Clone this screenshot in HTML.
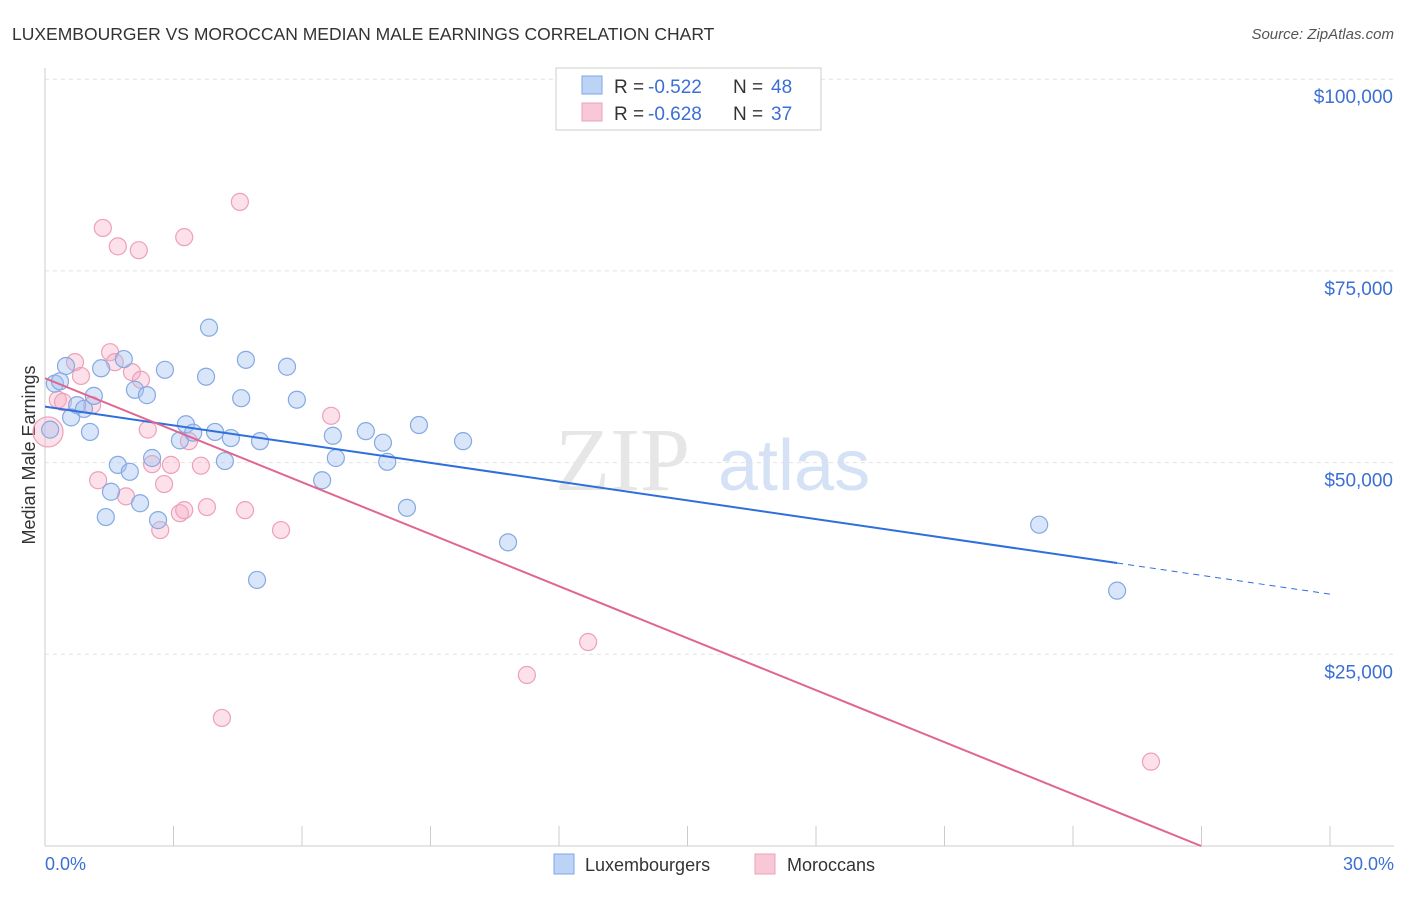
<!DOCTYPE html>
<html><head><meta charset="utf-8"><style>
body{margin:0;background:#fff;font-family:"Liberation Sans",sans-serif;}
</style></head><body>
<svg id="chart" width="1406" height="892" xmlns="http://www.w3.org/2000/svg" font-family="Liberation Sans, sans-serif">
<text x="12" y="40" font-size="17.5" fill="#333">LUXEMBOURGER VS MOROCCAN MEDIAN MALE EARNINGS CORRELATION CHART</text>
<text x="1394" y="39" font-size="15" fill="#555" text-anchor="end" font-style="italic">Source: ZipAtlas.com</text>
<g id="grid"></g>
<g><text x="555" y="490" font-size="90" font-family="Liberation Serif, serif" fill="#e6e6e6">ZIP</text><text x="718" y="490" font-size="72" fill="#d5e2f5">atlas</text></g>
<text x="35" y="455" font-size="18" fill="#333" text-anchor="middle" transform="rotate(-90 35 455)">Median Male Earnings</text>
<g id="marks"></g>
<g>
<rect x="556" y="68" width="265" height="62" fill="#fff" stroke="#ccc"/>
<rect x="582" y="76" width="20" height="18" fill="#bcd3f5" stroke="#7fa6e3"/>
<rect x="582" y="103" width="20" height="18" fill="#f8c8d7" stroke="#eea0b8"/>
<text x="614" y="93" font-size="19" fill="#333">R =</text><text x="648" y="93" font-size="19" fill="#3b6fd4">-0.522</text>
<text x="733" y="93" font-size="19" fill="#333">N =</text><text x="771" y="93" font-size="19" fill="#3b6fd4">48</text>
<text x="614" y="120" font-size="19" fill="#333">R =</text><text x="648" y="120" font-size="19" fill="#3b6fd4">-0.628</text>
<text x="733" y="120" font-size="19" fill="#333">N =</text><text x="771" y="120" font-size="19" fill="#3b6fd4">37</text>
</g>
<g>
<rect x="554" y="854" width="20" height="20" fill="#bcd3f5" stroke="#7fa6e3"/>
<text x="585" y="871" font-size="18" fill="#333">Luxembourgers</text>
<rect x="755" y="854" width="20" height="20" fill="#f8c8d7" stroke="#eea0b8"/>
<text x="787" y="871" font-size="18" fill="#333">Moroccans</text>
</g>
</svg>
<script>
const yTicks=[25000,50000,75000,100000];
const yTickLabels=["$25,000","$50,000","$75,000","$100,000"];
const xTickCount=10;
const luxX=[0.23,0.35,0.49,0.61,0.75,0.91,1.05,1.14,1.31,1.42,1.54,1.70,1.84,1.98,2.10,2.22,2.38,2.50,2.64,2.80,3.15,3.29,3.46,3.76,3.83,3.97,4.20,4.34,4.58,4.69,4.95,5.02,5.65,5.88,6.47,6.72,6.79,7.49,7.89,7.99,8.45,8.73,9.76,10.81,23.21,25.03,0.12];
const luxY=[60.3,60.6,62.6,55.9,57.5,57.0,54.0,58.7,62.3,42.9,46.2,49.7,63.5,48.8,59.5,44.7,58.8,50.6,42.5,62.1,52.9,55.0,53.9,61.2,67.6,54.0,50.2,53.2,58.4,63.4,34.7,52.8,62.5,58.2,47.7,53.5,50.6,54.1,52.6,50.1,44.1,54.9,52.8,39.6,41.9,33.3,54.3];
const morX=[0.07,0.30,0.42,0.70,0.84,1.10,1.24,1.35,1.52,1.70,1.63,1.89,2.03,2.19,2.24,2.40,2.50,2.69,2.78,2.94,3.15,3.25,3.25,3.36,3.64,3.78,4.13,4.55,4.67,5.51,6.68,11.25,12.68,25.82];
const morY=[54.0,58.2,57.9,63.1,61.3,57.5,47.7,80.6,64.4,78.2,63.1,45.6,61.8,77.7,60.8,54.3,49.8,41.2,47.2,49.7,43.4,79.4,43.8,52.8,49.6,44.2,16.7,84.0,43.8,41.2,56.1,22.3,26.6,11.0];
const luxTrend=[57.3,-0.815];
const morTrend=[61.0,-2.26];
const NS="http://www.w3.org/2000/svg";
const X=v=>45+v*(1285/30);
const Y=v=>846-v*191.7/25000;
const Yk=v=>Y(v*1000);
function mk(tag,a,parent){const e=document.createElementNS(NS,tag);for(const k in a)e.setAttribute(k,a[k]);parent.appendChild(e);return e;}
const grid=document.getElementById('grid'),marks=document.getElementById('marks');
yTicks.forEach((t,i)=>{
 const l=mk('line',{x1:45,x2:1394,y1:Y(t),y2:Y(t),stroke:'#e2e2e2','stroke-dasharray':'4,4'},grid);
 
 
 const tx=mk('text',{x:1393,y:Y(t)+24,'font-size':19,fill:'#3b6fd4','text-anchor':'end'},grid);
 tx.textContent=yTickLabels[i];
 
 
});
mk('line',{x1:45,x2:45,y1:68,y2:846,stroke:'#ccc'},grid);
mk('line',{x1:45,x2:1394,y1:846,y2:846,stroke:'#ccc'},grid);
for(let i=0;i<=xTickCount;i++){const t=mk('line',{x1:X(i*3),x2:X(i*3),y1:826,y2:846,stroke:'#ccc'},grid);
 
 }
const xl0=mk('text',{x:45,y:870,'font-size':18,fill:'#3b6fd4'},grid);xl0.textContent='0.0%';


const xl1=mk('text',{x:1394,y:870,'font-size':18,fill:'#3b6fd4','text-anchor':'end'},grid);xl1.textContent='30.0%';


morX.forEach((x,i)=>{const c=mk('circle',{cx:X(x),cy:Yk(morY[i]),r:i==0?15:8.5,fill:'rgba(245,170,195,0.35)',stroke:'#eea0b8','stroke-width':1.2},marks);
 
 });
luxX.forEach((x,i)=>{const c=mk('circle',{cx:X(x),cy:Yk(luxY[i]),r:8.5,fill:'rgba(160,192,240,0.4)',stroke:'#85a9e3','stroke-width':1.2},marks);
 
 });
const lt=x=>luxTrend[0]+luxTrend[1]*x, mt=x=>morTrend[0]+morTrend[1]*x;
const maxLux=Math.max(...luxX);
const l1=mk('line',{x1:X(0),y1:Yk(lt(0)),x2:X(maxLux),y2:Yk(lt(maxLux)),stroke:'#2e6fdc','stroke-width':2},marks);


const l2=mk('line',{x1:X(maxLux),y1:Yk(lt(maxLux)),x2:X(30),y2:Yk(lt(30)),stroke:'#2e6fdc','stroke-width':1,'stroke-dasharray':'6,5'},marks);


const xz=-morTrend[0]/morTrend[1];
const l3=mk('line',{x1:X(0),y1:Yk(mt(0)),x2:X(xz),y2:Yk(mt(xz)),stroke:'#e0668f','stroke-width':2},marks);


</script>
</body></html>
